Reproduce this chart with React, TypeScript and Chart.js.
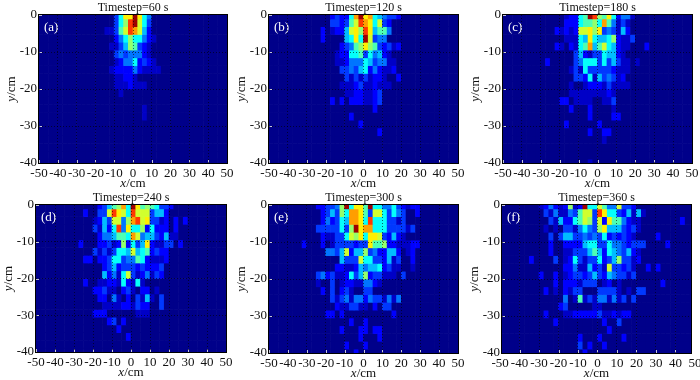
import React, { useEffect, useRef } from "react";
import { Chart, registerables } from "chart.js";

Chart.register(...registerables);

// Each row: [first column index, hex levels from there on]. Rows run from y=0 downward,
// columns from x=-50 rightward in 2.5 cm steps. Anything not listed is level 0.
type Row = [number, string];

const titles = ["Timestep=60 s", "Timestep=120 s", "Timestep=180 s", "Timestep=240 s", "Timestep=300 s", "Timestep=360 s"];
const tags = ["(a)", "(b)", "(c)", "(d)", "(e)", "(f)"];

const panelA: Row[] = [
  [16, "36aada64"], [16, "368cd963"], [14, "11379cb952"], [16, "246866421"], [15, "113587321"],
  [16, "34344421"], [16, "124462321"], [15, "12222421111"], [16, "11221"], [16, "1112111"],
  [17, "1"], [0, ""], [22, "1"], [22, "1"],
];
const panelB: Row[] = [
  [13, "23226bdab654332"], [13, "33237" + "9cba6932"], [11, "2012259a8ca5774"], [11, "2000056a6d9344"],
  [15, "23478a8732312"], [14, "122667364521"], [14, "1124446534411"], [15, "334356242112"],
  [16, "313131221002"], [15, "11123112111"], [16, "11221123"], [13, "20202221123"],
  [22, "2"], [17, "2"], [19, "2"], [23, "2"],
];
const panelC: Row[] = [
  [13, "12267dc87a62441"], [13, "22267786b74131"], [11, "2121299a8a343152"], [13, "11165a655682113"],
  [11, "2102167b579652110002"], [15, "35213365521"], [9, "20000034666363531101"], [14, "1316333332111"],
  [15, "33261534312"], [14, "1001222131111"], [14, "1111111121"], [12, "220111100113"],
  [14, "2000200001"], [18, "2000022"], [13, "20000002"], [18, "20022"], [21, "1"], [0, ""], [0, ""], [18, "1"],
];
const panelD: Row[] = [
  [13, "23578b6da7876332"], [10, "200339ca96c9993552"], [12, "12539948bc9a33120202"], [12, "31526c4a6682622202"],
  [13, "2445776b945532511"], [9, "20002231282635a2113302"], [12, "3131366595672322"], [10, "220223663447621112"],
  [14, "2352333232223"], [14, "5241693124132"], [10, "2001122162161"], [12, "22311023102201"],
  [13, "22041020315103"], [14, "1111221322003"], [12, "222000000111"], [15, "2302"], [17, "2"], [19, "2"],
];
const panelE: Row[] = [
  [10, "223348d6aa7d6644632122"], [11, "235386bba739963643002"], [11, "242365bba6c6663313"], [10, "33333638dabb666333313"],
  [11, "21133698a6aa932521"], [7, "20002013333233a7782211122"], [12, "4435925583422552012"], [15, "5333966332513002"],
  [14, "22112545562311001"], [10, "3423112635823311103"], [10, "10030122114421"], [11, "20302310033"],
  [13, "313414424331414"], [14, "211331102033"], [12, "220200000000002"], [17, "2002"], [15, "200022022"],
  [19, "20002"], [16, "20002"], [18, "2"],
];
const panelF: Row[] = [
  [8, "124212812d6697449332"], [9, "31411437993ca66325151"], [10, "315226798392a774211000000002"], [9, "101033146438a5553231"],
  [10, "30355334343623232100002"], [10, "2002222566336443233300002"], [10, "2001133357526543521"], [6, "20000301263133623583312"],
  [13, "22411523193323100202"], [8, "20020123323532543313"], [11, "20222133301201000000002"], [9, "201021330003333101033"],
  [13, "401713144141303"], [12, "230000011"], [9, "200011222223112122"], [11, "20000000002003"],
  [22, "2"], [16, "2000200002"], [16, "302002"], [17, "2"],
];
const panels = [panelA, panelB, panelC, panelD, panelE, panelF];

const xTicks = [-50, -40, -30, -20, -10, 0, 10, 20, 30, 40, 50];
const yTicks = [-40, -30, -20, -10, 0];
const columnCount = 40;
const rowCount = 20;
const levelStops = [0.01, 0.07, 0.125, 0.18, 0.24, 0.31, 0.38, 0.45, 0.52, 0.58, 0.64, 0.72, 0.82, 0.97];

// [left, top, right, bottom] of each plot area on the page.
const frames = [
  [39, 15, 227, 163], [269, 15, 458, 163], [503, 15, 692, 163],
  [36, 205, 226, 352], [269, 205, 458, 353], [502, 205, 691, 353],
];
// x range shown by each frame: panel (f) is cropped a little inside its tick range.
const xRanges = [
  [-50, 50], [-50, 50], [-50, 50], [-50, 50], [-50, 50], [-49, 48],
];

const FONT = '"Liberation Serif", "Times New Roman", serif';

function jet(level: number) {
  const t = levelStops[level] ?? 0;
  const ch = (v: number) => Math.round(255 * Math.max(0, Math.min(1, v)));
  const r = ch(Math.min(4 * t - 1.5, -4 * t + 4.5));
  const g = ch(Math.min(4 * t - 0.5, -4 * t + 3.5));
  const b = ch(Math.min(4 * t + 0.5, -4 * t + 2.5));
  return `rgb(${r},${g},${b})`;
}

function buildDatasets(rows: Row[]) {
  const step = 40 / (rowCount - 1);
  const out: any[] = [];
  for (let j = 0; j < rowCount; j++) {
    const [start, text] = rows[j] ?? [0, ""];
    const data: any[] = [];
    const colors: string[] = [];
    for (let i = 0; i < columnCount; i++) {
      const ch = i >= start ? text[i - start] : undefined;
      const level = ch ? parseInt(ch, 16) : 0;
      data.push({ x: -50 + 2.5 * i + 1.25, y: [-(j + 0.5) * step, -(j - 0.5) * step] });
      colors.push(jet(level));
    }
    out.push({ data, backgroundColor: colors, borderWidth: 0, barPercentage: 1, categoryPercentage: 1, grouped: false });
  }
  return out;
}

const framePlugin = (tag: string) => ({
  id: "frame",
  afterDatasetsDraw(chart: any) {
    const { ctx, chartArea: a, scales } = chart;
    ctx.save();
    ctx.strokeStyle = "rgba(230,230,230,0.85)";
    ctx.lineWidth = 1;
    ctx.beginPath();
    for (const v of xTicks) {
      const p = scales.x.getPixelForValue(v);
      if (p < a.left || p > a.right) continue;
      const px = Math.round(p) + 0.5;
      ctx.moveTo(px, a.bottom);
      ctx.lineTo(px, a.bottom - 3);
    }
    for (const v of yTicks) {
      const py = Math.round(scales.y.getPixelForValue(v)) + 0.5;
      ctx.moveTo(a.left, py);
      ctx.lineTo(a.left + 3, py);
    }
    ctx.stroke();
    ctx.strokeStyle = "#000";
    ctx.lineWidth = 1;
    ctx.strokeRect(a.left - 0.5, a.top - 0.5, a.right - a.left + 1, a.bottom - a.top + 1);

    ctx.fillStyle = "#fff";
    ctx.font = `13px ${FONT}`;
    ctx.textAlign = "left";
    ctx.textBaseline = "middle";
    ctx.fillText(tag, a.left + 5, a.top + 13);

    ctx.fillStyle = "#111";
    const drawLabel = (letter: string, cx: number, cy: number, rotate: boolean) => {
      ctx.save();
      ctx.translate(cx, cy);
      if (rotate) ctx.rotate(-Math.PI / 2);
      ctx.font = `italic 13px ${FONT}`;
      const w1 = ctx.measureText(letter).width;
      ctx.font = `13px ${FONT}`;
      const w2 = ctx.measureText("/cm").width;
      const x0 = -(w1 + w2) / 2;
      ctx.font = `italic 13px ${FONT}`;
      ctx.fillText(letter, x0, 0);
      ctx.font = `13px ${FONT}`;
      ctx.fillText("/cm", x0 + w1, 0);
      ctx.restore();
    };
    drawLabel("x", (a.left + a.right) / 2, a.bottom + 21, false);
    drawLabel("y", a.left - 27, (a.top + a.bottom) / 2, true);
    ctx.restore();
  },
});

const innerGridColor = (limits: number[]) => (c: any) =>
  c.tick && limits.includes(c.tick.value) ? "transparent" : "rgba(0,0,0,0.6)";

function Panel({ index }: { index: number }) {
  const ref = useRef<HTMLCanvasElement>(null);
  const [l, t, r, b] = frames[index];
  const width = r - l + 80;
  const height = b - t + 45;
  useEffect(() => {
    const chart = new Chart(ref.current!, {
      type: "bar",
      data: { datasets: buildDatasets(panels[index]) },
      plugins: [framePlugin(tags[index])],
      options: {
        responsive: false,
        animation: false,
        events: [],
        layout: { autoPadding: false, padding: 0 },
        plugins: {
          legend: { display: false },
          tooltip: { enabled: false },
          title: {
            display: true,
            text: titles[index],
            color: "#111",
            padding: 0,
            font: { family: FONT, size: 12, weight: "normal", lineHeight: 1.25 },
          },
        },
        scales: {
          x: {
            type: "linear",
            min: xRanges[index][0],
            max: xRanges[index][1],
            offset: false,
            afterFit: (s: any) => { s.height = 30; },
            afterBuildTicks: (s: any) => { s.ticks = xTicks.map((value) => ({ value })); },
            ticks: { color: "#111", padding: 3, maxRotation: 0, autoSkip: false, font: { family: FONT, size: 13 } },
            grid: { offset: false, drawTicks: false, color: innerGridColor([-50, 50]), z: 1 },
            border: { display: false, dash: [1, 2] },
          },
          y: {
            type: "linear",
            position: "left",
            min: -40,
            max: 0,
            afterFit: (s: any) => { s.width = 40; },
            afterBuildTicks: (s: any) => { s.ticks = yTicks.map((value) => ({ value })); },
            ticks: { color: "#111", padding: 2, autoSkip: false, font: { family: FONT, size: 13 } },
            grid: { drawTicks: false, color: innerGridColor([-40, 0]), z: 1 },
            border: { display: false, dash: [1, 2] },
          },
          rightMargin: {
            type: "linear",
            position: "right",
            display: true,
            afterFit: (s: any) => { s.width = 40; },
            ticks: { display: false },
            grid: { display: false, drawTicks: false },
            border: { display: false },
          },
        },
      } as any,
    });
    return () => chart.destroy();
  }, [index]);
  return (
    <canvas
      ref={ref}
      width={width}
      height={height}
      style={{ position: "absolute", left: l - 40, top: t - 15, width, height }}
    />
  );
}

export default function App() {
  return (
    <div style={{ position: "absolute", left: 0, top: 0, width: 700, height: 380, overflow: "hidden", background: "#fff" }}>
      {titles.map((_, i) => (
        <Panel key={i} index={i} />
      ))}
    </div>
  );
}
